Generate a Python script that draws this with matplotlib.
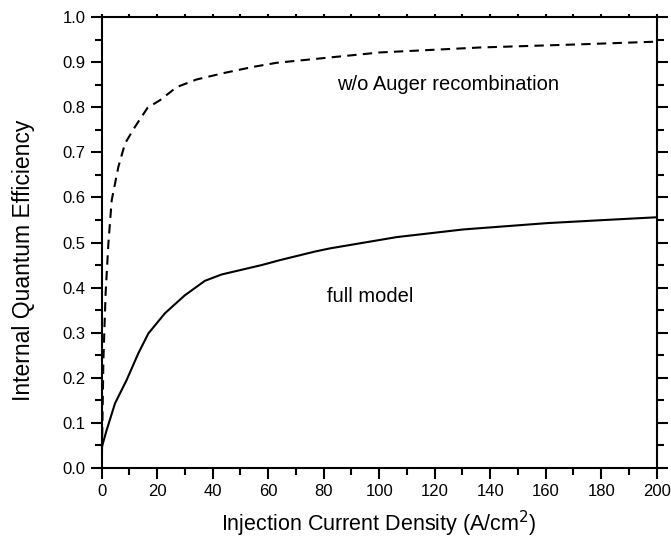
import matplotlib
matplotlib.use('Agg')
import matplotlib.pyplot as plt
from matplotlib.ticker import MultipleLocator, FormatStrFormatter

plt.rcParams['font.family'] = ['Liberation Sans', 'DejaVu Sans']

# full model (solid)
full_x = [0, 1.8, 4.8, 9.0, 13.2, 16.8, 22.8, 30, 37.2, 43.2, 57.7, 64.3,
          76.9, 82.3, 106.3, 130.3, 160.4, 184.4, 200]
full_y = [0.045, 0.084, 0.143, 0.195, 0.254, 0.298, 0.343, 0.383, 0.415,
          0.429, 0.450, 0.461, 0.480, 0.487, 0.512, 0.529, 0.543, 0.551, 0.556]

# without Auger recombination (dashed)
noauger_x = [0, 0.3, 0.6, 1.4, 2.4, 3.6, 6.0, 8.4, 12, 16.5, 21, 27, 34.2,
             43.8, 54.6, 63, 100.3, 136.3, 172.4, 200]
noauger_y = [0.0, 0.12, 0.239, 0.387, 0.498, 0.594, 0.668, 0.720, 0.757,
             0.799, 0.816, 0.845, 0.862, 0.876, 0.890, 0.899, 0.922, 0.933,
             0.940, 0.946]

fig = plt.figure(figsize=(6.71, 5.41), dpi=100)
ax = fig.add_axes([0.1516, 0.1355, 0.8271, 0.8325])

ax.plot(noauger_x, noauger_y, color='black', lw=1.5, ls=(0, (4.5, 3)))
ax.plot(full_x, full_y, color='black', lw=1.5)

ax.text(84.7, 0.85, 'w/o Auger recombination', fontsize=14.5, va='center')
ax.text(81.1, 0.38, 'full model', fontsize=14.5, va='center')

ax.set_xlim(0, 200)
ax.set_ylim(0, 1.0)
ax.xaxis.set_major_locator(MultipleLocator(20))
ax.xaxis.set_minor_locator(MultipleLocator(10))
ax.yaxis.set_major_locator(MultipleLocator(0.1))
ax.yaxis.set_minor_locator(MultipleLocator(0.05))
ax.yaxis.set_major_formatter(FormatStrFormatter('%.1f'))

for s in ax.spines.values():
    s.set_linewidth(1.5)

ax.tick_params(which='major', direction='out', length=8, width=1.5,
               labelsize=12, left=True, bottom=True, right=True)
ax.tick_params(which='minor', direction='out', length=5, width=1.5,
               left=True, bottom=True, right=True)
# tiny marks on the top axis
ax.tick_params(axis='x', which='major', top=True)
ax.tick_params(axis='x', which='minor', top=True)
for t in ax.xaxis.get_major_ticks() + ax.xaxis.get_minor_ticks():
    t.tick2line.set_markersize(2)

ax.set_xlabel('Injection Current Density (A/cm$^2$)', fontsize=15.5, labelpad=7)
ax.set_ylabel('Internal Quantum Efficiency', fontsize=16.5)
ax.yaxis.set_label_coords(-0.12, 0.46)

fig.savefig('out.png', dpi=100)
